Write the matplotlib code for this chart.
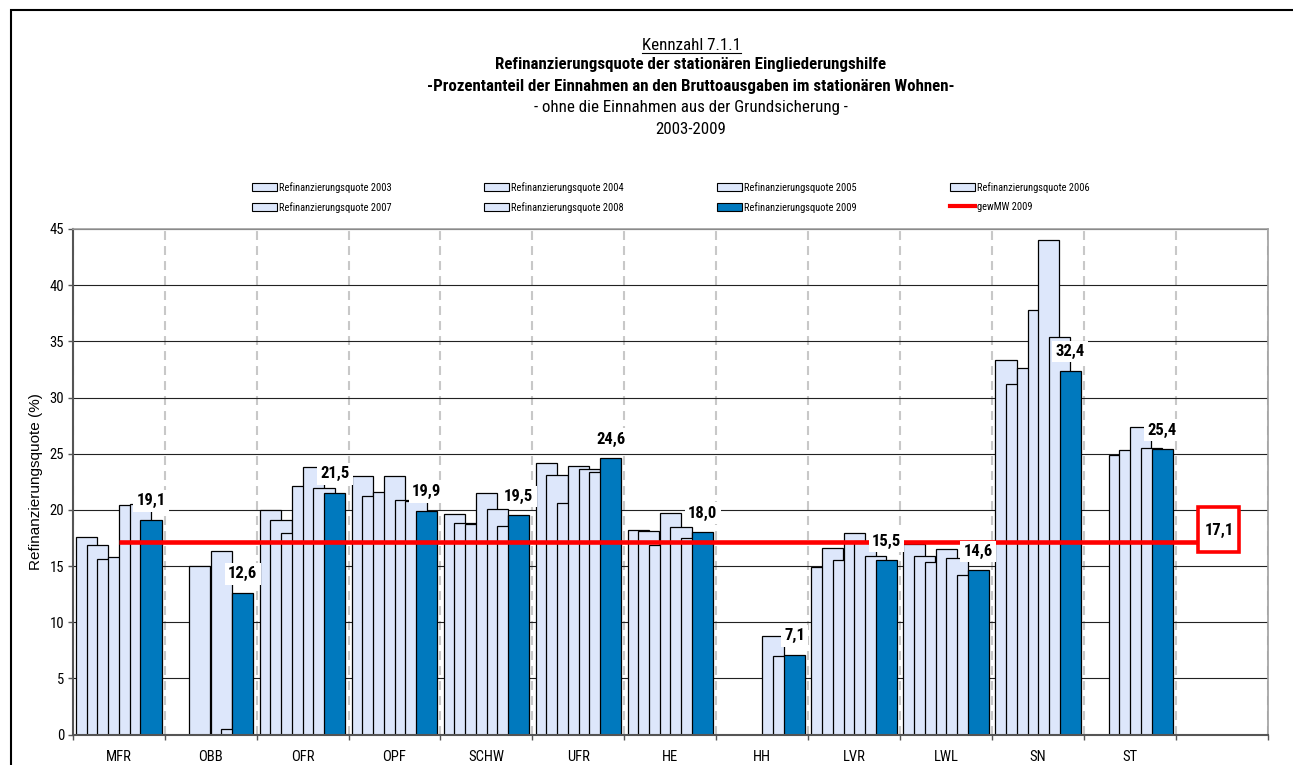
import numpy as np
import matplotlib
matplotlib.use("Agg")
import matplotlib.pyplot as plt
import matplotlib.transforms as mtransforms
from matplotlib.patches import Patch, Rectangle
from matplotlib.lines import Line2D

nan = np.nan

# Regions (the last slot is an empty category that holds the average label)
regions = ["MFR", "OBB", "OFR", "OPF", "SCHW", "UFR", "HE", "HH", "LVR", "LWL", "SN", "ST", ""]
years = ["2003", "2004", "2005", "2006", "2007", "2008", "2009"]

quote_2003 = [17.6, nan, 20.0, 23.0, 19.6, 24.2, 18.2, nan, 14.9, 17.0, 33.3, nan, nan]
quote_2004 = [16.9, nan, 19.1, 21.2, 18.8, 23.1, 18.1, nan, 16.6, 15.9, 31.2, nan, nan]
quote_2005 = [15.6, 15.0, 17.9, 21.6, 18.7, 20.6, 16.9, nan, 15.5, 15.4, 32.6, 24.9, nan]
quote_2006 = [15.8, nan, 22.1, 23.0, 21.5, 23.9, 19.7, nan, 17.9, 16.5, 37.8, 25.3, nan]
quote_2007 = [20.4, 16.3, 23.8, 20.9, 20.1, 23.6, 18.5, 8.8, 17.2, 15.7, 44.0, 27.4, nan]
quote_2008 = [20.5, 0.5, 21.9, 20.8, 18.6, 23.4, 17.5, 7.0, 15.9, 14.2, 35.4, 25.5, nan]
quote_2009 = [19.1, 12.6, 21.5, 19.9, 19.5, 24.6, 18.0, 7.1, 15.5, 14.6, 32.4, 25.4, nan]

gew_mw_2009 = 17.1

y_ticks = [0, 5, 10, 15, 20, 25, 30, 35, 40, 45]

title_lines = [
    ("Kennzahl 7.1.1", "normal"),
    ("Refinanzierungsquote der stationären Eingliederungshilfe", "bold"),
    ("-Prozentanteil der Einnahmen an den Bruttoausgaben im stationären Wohnen-", "bold"),
    ("- ohne die Einnahmen aus der Grundsicherung -", "normal"),
    ("2003-2009", "normal"),
]

NARROW = ["Liberation Sans Narrow", "Roboto Condensed", "Open Sans Condensed",
          "Liberation Sans", "DejaVu Sans"]
plt.rcParams["font.family"] = NARROW

W, H = 1293, 765
fig = plt.figure(figsize=(W / 100, H / 100), dpi=100)
fig.patch.set_facecolor("white")

# plot area in pixel units
left_px, right_px, top_px, bottom_px = 72.7, 1268, 229, 734.5
ax = fig.add_axes([left_px / W, 1 - bottom_px / H,
                   (right_px - left_px) / W, (bottom_px - top_px) / H])

light = "#DDE7FB"
dark = "#0079BE"
series = [quote_2003, quote_2004, quote_2005, quote_2006,
          quote_2007, quote_2008, quote_2009]

n = len(regions)
x = np.arange(n)
step = 0.1168
width = 0.231

bar_handles = []
for i, (yr, vals) in enumerate(zip(years, series)):
    col = dark if yr == "2009" else light
    ax.bar(x + (i - 3) * step, vals, width=width, color=col,
           edgecolor="black", linewidth=0.9, zorder=2)
    bar_handles.append(Patch(facecolor=col, edgecolor="black", linewidth=0.8,
                             label=f"Refinanzierungsquote {yr}"))

# weighted mean 2009 as a line across all regions
ax.plot(x, [gew_mw_2009] * n, color="#FF0000", linewidth=3.3,
        solid_capstyle="butt", zorder=5)
line_handle = Line2D([], [], color="#FF0000", linewidth=3, label="gewMW 2009")

ax.set_xlim(-0.5, n - 0.5)
ax.set_ylim(0, 45)
ax.set_yticks(y_ticks)
ax.set_yticklabels([str(t) for t in y_ticks], fontsize=10.5)

# category boundaries as major ticks, names on minor ticks
ax.set_xticks(np.arange(-0.5, n, 1.0))
ax.set_xticklabels([])
ax.set_xticks(x, minor=True)
ax.set_xticklabels(regions, minor=True, fontsize=10.5)
ax.tick_params(axis="x", which="major", direction="out", length=3.6,
               width=1.0, color="#555555")
ax.tick_params(axis="x", which="minor", length=0, pad=11)
ax.tick_params(axis="y", direction="out", length=3.6, width=1.0,
               color="#555555", pad=2.5)

ax.set_axisbelow(True)
ax.yaxis.grid(True, color="#222222", linewidth=0.8)
ax.xaxis.grid(True, which="major", color="#C8C8C8", linewidth=1.5,
              linestyle=(0, (4.3, 2.9)))

for side in ("left", "bottom"):
    ax.spines[side].set_color("#555555")
    ax.spines[side].set_linewidth(1.5)
for side in ("top", "right"):
    ax.spines[side].set_color("#A0A0A0")
    ax.spines[side].set_linewidth(1.2)

ax.set_ylabel("Refinanzierungsquote (%)", fontsize=11,
              family=["Liberation Sans", "DejaVu Sans"], labelpad=5)

# value labels on the 2009 bars
for xi, v in zip(x, quote_2009):
    if np.isnan(v):
        continue
    ax.annotate(f"{v:.1f}".replace(".", ","), xy=(xi + 3 * step, v),
                xytext=(0, 19), textcoords="offset pixels",
                ha="center", va="center", fontsize=12, fontweight="bold",
                bbox=dict(boxstyle="square,pad=0.2", fc="white", ec="none"),
                zorder=6)

# boxed label for the average at the end of the line
anchor = mtransforms.ScaledTranslation(x[-1], gew_mw_2009, ax.transData)
box = Rectangle((-24, -10), 41, 45, facecolor="white", edgecolor="#FF0000",
                linewidth=2.6, transform=mtransforms.IdentityTransform() + anchor,
                zorder=6, clip_on=False)
ax.add_patch(box)
ax.annotate(f"{gew_mw_2009:.1f}".replace(".", ","), xy=(x[-1], gew_mw_2009),
            xytext=(-3, 12), textcoords="offset pixels", ha="center",
            va="center", fontsize=12, fontweight="bold", zorder=7)

# titles
baselines = [50, 69.5, 90.5, 112, 133.5]
title_texts = []
for (txt, wt), yb in zip(title_lines, baselines):
    t = fig.text(691 / W, 1 - yb / H, txt, ha="center", va="baseline",
                 fontsize=12.2, fontweight=wt)
    title_texts.append(t)

# legend: four columns of two rows
legend_rows = [bar_handles[:4], bar_handles[4:] + [line_handle]]
col_x = [252, 484, 717, 950]
for j, cx in enumerate(col_x):
    hs = [legend_rows[0][j], legend_rows[1][j]]
    fig.legend(handles=hs, loc="upper left",
               bbox_to_anchor=(cx / W, 1 - 182 / H), frameon=False,
               fontsize=7.5, handlelength=2.4, handleheight=0.85,
               handletextpad=0.2, borderpad=0, borderaxespad=0,
               labelspacing=0.85)

# chart frame
fig.add_artist(Rectangle((11 / W, -0.05), 1.2, 1 - 10.5 / H + 0.05,
                         transform=fig.transFigure, fill=False,
                         edgecolor="black", linewidth=1.5))

# underline the first title line
fig.canvas.draw()
renderer = fig.canvas.get_renderer()
bb = title_texts[0].get_window_extent(renderer)
yline = H - baselines[0] - 2.5
fig.add_artist(Line2D([bb.x0, bb.x1], [yline, yline], color="black",
                      linewidth=0.8, transform=mtransforms.IdentityTransform()))

fig.savefig("out.png", dpi=100)
